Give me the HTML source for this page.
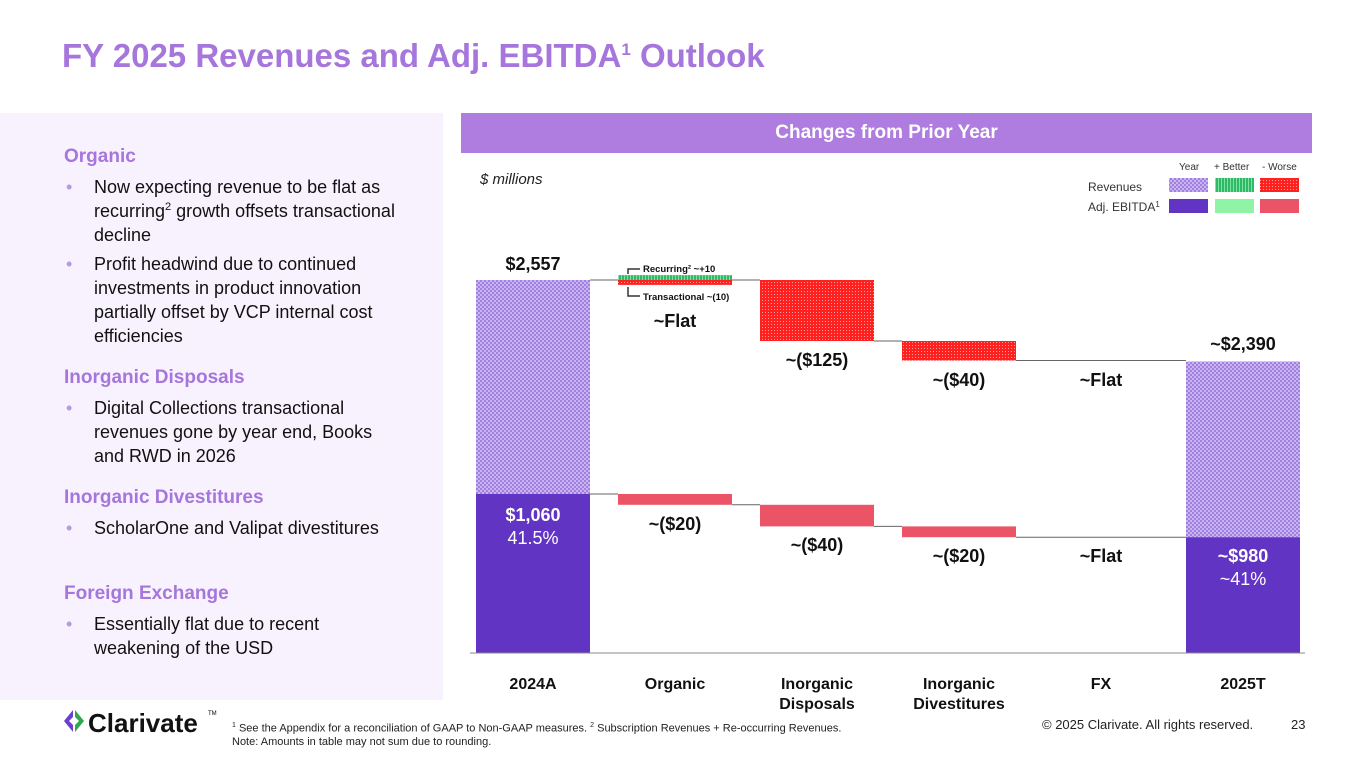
<!DOCTYPE html>
<html><head><meta charset="utf-8"><style>
body{margin:0;width:1365px;height:768px;position:relative;background:#fff;font-family:"Liberation Sans",sans-serif;overflow:hidden;color:#111}
.abs{position:absolute}
#title{left:62px;top:37px;font-size:33px;font-weight:bold;color:#a676dc;letter-spacing:0px}
#left{left:0;top:113px;width:443px;height:587px;background:#f7f2fd}
.h{position:absolute;left:64px;font-size:19px;font-weight:bold;color:#a676dc}
.b{position:absolute;left:94px;font-size:18px;line-height:24px;color:#111;width:305px}
.b:before{content:"•";position:absolute;left:-28px;color:#b59ae0}
#hdr{left:461px;top:113px;width:851px;height:40px;background:#af7de0;color:#fff;font-size:19px;font-weight:bold;text-align:center;line-height:40px}
</style></head><body>
<div id="title" class="abs">FY 2025 Revenues and Adj. EBITDA<sup style="font-size:17px">1</sup> Outlook</div>
<div id="left" class="abs">
<div class="h" style="top:33px">Organic</div>
<div class="b" style="top:62px">Now expecting revenue to be flat as recurring<sup style="font-size:11px;line-height:0">2</sup> growth offsets transactional decline</div>
<div class="b" style="top:139px">Profit headwind due to continued investments in product innovation partially offset by VCP internal cost efficiencies</div>
<div class="h" style="top:254px">Inorganic Disposals</div>
<div class="b" style="top:283px">Digital Collections transactional revenues gone by year end, Books and RWD in 2026</div>
<div class="h" style="top:374px">Inorganic Divestitures</div>
<div class="b" style="top:403px">ScholarOne and Valipat divestitures</div>
<div class="h" style="top:470px">Foreign Exchange</div>
<div class="b" style="top:499px">Essentially flat due to recent weakening of the USD</div>
</div>
<div id="hdr" class="abs">Changes from Prior Year</div>
<svg class="abs" style="left:0;top:0" width="1365" height="768" id="chart">
<defs>
<pattern id="pYear" width="4" height="4" patternUnits="userSpaceOnUse"><rect width="4" height="4" fill="#c9b4f0"/><rect width="2" height="2" fill="#9f7fe0"/><rect x="2" y="2" width="2" height="2" fill="#9f7fe0"/></pattern>
<pattern id="pGreen" width="3" height="3" patternUnits="userSpaceOnUse"><rect width="3" height="3" fill="#2fb866"/><rect width="1" height="3" fill="#7ee3a3"/></pattern>
<pattern id="pRed" width="3" height="3" patternUnits="userSpaceOnUse"><rect width="3" height="3" fill="#ff2020"/><rect width="1" height="1" fill="#ff9a9a"/></pattern>
</defs>
<text x="480" y="184" font-size="15" font-style="italic" fill="#222">$ millions</text>
<g font-size="10" fill="#333">
<text x="1179" y="170">Year</text><text x="1214" y="170">+ Better</text><text x="1262" y="170">- Worse</text>
<text x="1088" y="191" font-size="12">Revenues</text><text x="1088" y="211" font-size="12">Adj. EBITDA<tspan font-size="8" dy="-4">1</tspan></text>
<rect x="1169" y="178" width="39" height="14" fill="url(#pYear)"/><rect x="1215" y="178" width="39" height="14" fill="url(#pGreen)"/><rect x="1260" y="178" width="39" height="14" fill="url(#pRed)"/>
<rect x="1169" y="199" width="39" height="14" fill="#6234c4"/><rect x="1215" y="199" width="39" height="14" fill="#8ff4a6"/><rect x="1260" y="199" width="39" height="14" fill="#ea5466"/>
</g>
<g id="marks"></g>
</svg>
<svg class="abs" style="left:62px;top:706px" width="170" height="34">
<path d="M11 4 L2 15 L11 26 L11 19 L7 15 L11 11Z" fill="#6a3fd0"/><path d="M13 4 L22 15 L13 26 L13 19 L17 15 L13 11Z" fill="#2fa84f"/>
<text x="26" y="26" font-size="26" font-weight="bold" fill="#111">Clarivate</text><text x="146" y="9" font-size="6">TM</text></svg>
<div class="abs" style="left:232px;top:719px;font-size:11px;line-height:13px;color:#222"><sup style="font-size:7px">1</sup> See the Appendix for a reconciliation of GAAP to Non-GAAP measures. <sup style="font-size:7px">2</sup> Subscription Revenues + Re-occurring Revenues.<br>Note: Amounts in table may not sum due to rounding.</div>
<div class="abs" style="left:1042px;top:717px;font-size:13px;color:#222">© 2025 Clarivate. All rights reserved.</div>
<div class="abs" style="left:1291px;top:717px;font-size:13px;color:#222">23</div>
<script>
const categories=["2024A","Organic","Inorganic\nDisposals","Inorganic\nDivestitures","FX","2025T"];
const revenueStart=2557;
const revenueChanges=[0,-125,-40,0];
const revenueEnd=2390;
const ebitdaStart=1060;
const ebitdaChanges=[-20,-40,-20,0];
const ebitdaEnd=980;
const recurring=10, transactional=-10;
const revLabels=["$2,557","~Flat","~($125)","~($40)","~Flat","~$2,390"];
const ebLabels=["$1,060","~($20)","~($40)","~($20)","~Flat","~$980"];
const marginLabels=["41.5%","~41%"];

const NS="http://www.w3.org/2000/svg";
const g=document.getElementById('marks');
const base=653, bw=114;
const xC=i=>533+i*142;
const yRev=v=>280+(revenueStart-v)*0.488;
const yEb=v=>494+(ebitdaStart-v)*0.54;
function el(t,a,name){const e=document.createElementNS(NS,t);for(const k in a)e.setAttribute(k,a[k]);


g.appendChild(e);return e;}
function txt(x,y,s,o,name){const e=el('text',Object.assign({x:x,y:y,'text-anchor':'middle','font-size':18,'font-weight':'bold',fill:'#111'},o||{}),name);e.textContent=s;return e;}
const ebVals=[ebitdaStart,ebitdaEnd], revVals=[revenueStart,revenueEnd];
[0,5].forEach((i,k)=>{
 el('rect',{x:xC(i)-bw/2,y:yRev(revVals[k]),width:bw,height:yEb(ebVals[k])-yRev(revVals[k]),fill:'url(#pYear)'},'revenue-bar-'+categories[i].toLowerCase());
 el('rect',{x:xC(i)-bw/2,y:yEb(ebVals[k]),width:bw,height:base-yEb(ebVals[k]),fill:'#6234c4'},'ebitda-bar-'+categories[i].toLowerCase());
});
let r=revenueStart;
revenueChanges.forEach((d,j)=>{
 const i=j+1, nr=r+d;
 el('line',{x1:xC(i-1)+bw/2,x2:xC(i)-bw/2,y1:yRev(r),y2:yRev(r),stroke:'#666','stroke-width':1},'revenue-connector');
 if(i===1){
  el('rect',{x:xC(i)-bw/2,y:yRev(r+recurring),width:bw,height:yRev(r)-yRev(r+recurring),fill:'url(#pGreen)'},'recurring-bar');
  el('rect',{x:xC(i)-bw/2,y:yRev(r),width:bw,height:yRev(r+transactional)-yRev(r),fill:'url(#pRed)'},'transactional-bar');
 } else if(d!==0){
  el('rect',{x:xC(i)-bw/2,y:yRev(r),width:bw,height:yRev(nr)-yRev(r),fill:'url(#pRed)'},'revenue-change-bar');
 } else {
  el('line',{x1:xC(i)-bw/2,x2:xC(i)+bw/2,y1:yRev(r),y2:yRev(r),stroke:'#666','stroke-width':1},'revenue-flat-line');
 }
 r=nr;
});
el('line',{x1:xC(4)+bw/2,x2:xC(5)-bw/2,y1:yRev(r),y2:yRev(r),stroke:'#666','stroke-width':1},'revenue-connector');
let e=ebitdaStart;
ebitdaChanges.forEach((d,j)=>{
 const i=j+1, ne=e+d;
 el('line',{x1:xC(i-1)+bw/2,x2:xC(i)-bw/2,y1:yEb(e),y2:yEb(e),stroke:'#666','stroke-width':1},'ebitda-connector');
 if(d!==0) el('rect',{x:xC(i)-bw/2,y:yEb(e),width:bw,height:yEb(ne)-yEb(e),fill:'#ea5466'},'ebitda-change-bar');
 else el('line',{x1:xC(i)-bw/2,x2:xC(i)+bw/2,y1:yEb(e),y2:yEb(e),stroke:'#666','stroke-width':1},'ebitda-flat-line');
 e=ne;
});
el('line',{x1:xC(4)+bw/2,x2:xC(5)-bw/2,y1:yEb(e),y2:yEb(e),stroke:'#666','stroke-width':1},'ebitda-connector');
el('line',{x1:470,x2:1305,y1:base,y2:base,stroke:'#888','stroke-width':1},'x-axis');
const ox=xC(1)-bw/2+10;
el('path',{d:`M${ox+12} ${yRev(revenueStart)-11} H${ox} V${yRev(revenueStart)-6}`,fill:'none',stroke:'#333','stroke-width':1.5},'recurring-bracket');
el('path',{d:`M${ox} ${yRev(revenueStart)+7} V${yRev(revenueStart)+16} H${ox+12}`,fill:'none',stroke:'#333','stroke-width':1.5},'transactional-bracket');
txt(ox+15,yRev(revenueStart)-8,'Recurring² ~+10',{'text-anchor':'start','font-size':9.5},'recurring-label');
txt(ox+15,yRev(revenueStart)+20,'Transactional ~(10)',{'text-anchor':'start','font-size':9.5},'transactional-label');
const revLY=[270,327,366,386,386,350];
const ebLY=[521,530,551,562,562,562];
revLabels.forEach((s,i)=>txt(xC(i),revLY[i],s,{},'revenue-label-'+i));
ebLabels.forEach((s,i)=>txt(xC(i),ebLY[i],s,(i===0||i===5)?{fill:'#fff'}:{},'ebitda-label-'+i));
txt(xC(0),544,marginLabels[0],{fill:'#fff','font-weight':'normal'},'margin-label-2024');
txt(xC(5),585,marginLabels[1],{fill:'#fff','font-weight':'normal'},'margin-label-2025');
categories.forEach((c,i)=>{c.split('\n').forEach((l,k)=>txt(xC(i),689+k*20,l,{'font-size':16},'category-label-'+i));});
</script>
</body></html>
